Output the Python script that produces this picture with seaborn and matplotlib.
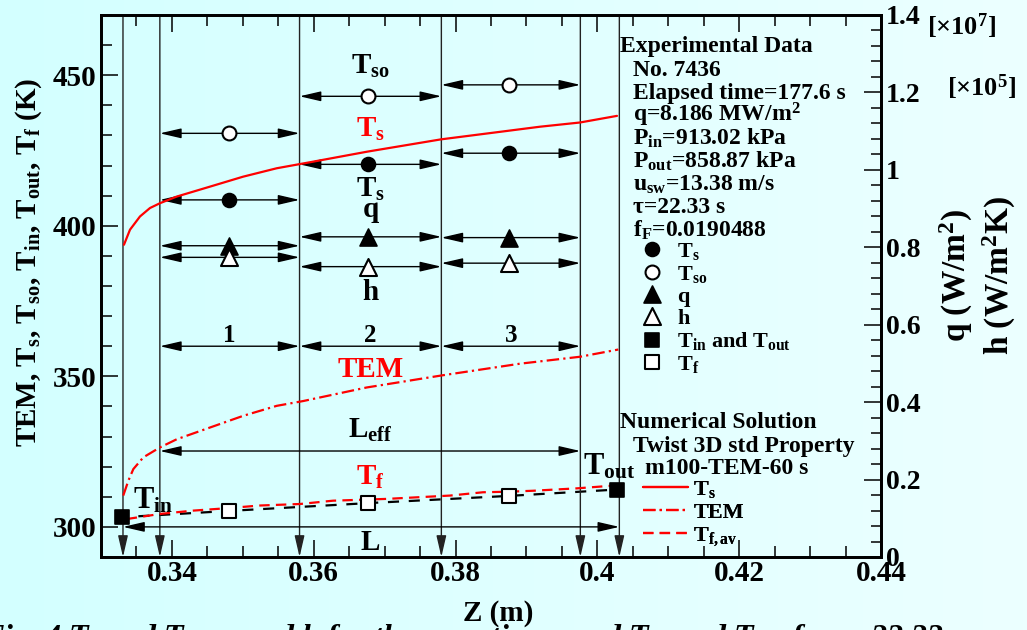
import numpy as np
import matplotlib
matplotlib.use("Agg")
import matplotlib.pyplot as plt
import seaborn as sns
from matplotlib.ticker import MultipleLocator, FuncFormatter
from matplotlib.colors import LinearSegmentedColormap

# ---------------- data ----------------
# numerical solution curves
ts_z = [0.33324, 0.33409, 0.33550, 0.33691, 0.33832, 0.34068, 0.34537, 0.35003,
        0.35478, 0.35806, 0.35947, 0.36751, 0.37795, 0.38627, 0.39191, 0.39755, 0.40277]
ts_T = [393.7, 398.7, 403.1, 405.9, 407.5, 409.7, 413.0, 416.3,
        419.1, 420.5, 421.1, 424.6, 428.7, 431.2, 432.9, 434.3, 436.5]
tem_z = [0.33314, 0.33385, 0.33456, 0.33597, 0.33832, 0.34068, 0.34537, 0.35007,
         0.35478, 0.35853, 0.36747, 0.37805, 0.38909, 0.39755, 0.40295]
tem_T = [310.4, 315.3, 319.2, 323.1, 326.4, 329.1, 333.0, 336.9,
         340.2, 341.8, 346.3, 350.3, 354.2, 356.5, 358.9]
tf_z = [0.33362, 0.33832, 0.34297, 0.34773, 0.35242, 0.35806, 0.36272, 0.37033,
        0.37922, 0.38387, 0.38768, 0.39092, 0.39713, 0.40221]
tf_T = [302.6, 304.3, 305.4, 306.2, 307.1, 307.6, 308.7, 309.3,
        310.4, 311.5, 311.7, 312.0, 312.8, 313.7]

# geometry of the test section
inlet_z = 0.3331
outlet_z = 0.4031
sec_bounds = [0.3383, 0.3580, 0.3780, 0.3976]
section_labels = ["1", "2", "3"]
sec_arrow_T = 360.0
leff_T = 325.2
l_T = 300.0

# experimental data per section
exp_z = [0.3480, 0.3677, 0.3876]
Ts_exp = [408.6, 420.4, 424.1]
Tso_exp = [430.7, 443.0, 446.8]
q_exp = [0.804, 0.827, 0.825]      # x 1e7 W/m2
h_exp = [0.774, 0.750, 0.759]      # x 1e5 W/m2K
Tf_exp = [305.3, 307.9, 310.3]
Tin_z, Tin_T = 0.33292, 303.2
Tout_z, Tout_T = 0.40273, 312.4

exp_header = "Experimental Data"
exp_lines = ["No. 7436", "Elapsed time=177.6 s", r"q=8.186 MW/m$^2$",
             r"P$_{in}$=913.02 kPa", r"P$_{out}$=858.87 kPa", r"u$_{sw}$=13.38 m/s",
             "τ=22.33 s", r"f$_F$=0.0190488"]
num_header = "Numerical Solution"
num_lines = ["Twist 3D std Property", "m100-TEM-60 s"]

# ---------------- style ----------------
W, H = 1027, 630
def fx(px): return px / W
def fy(py): return 1 - py / H

sns.set_theme(style="ticks")
plt.rcParams.update({
    "font.family": ["Liberation Serif", "DejaVu Serif"],
    "font.weight": "bold",
    "axes.labelweight": "bold",
    "mathtext.fontset": "custom",
    "mathtext.rm": "Liberation Serif:bold",
    "mathtext.it": "Liberation Serif:italic:bold",
    "mathtext.bf": "Liberation Serif:bold",
    "mathtext.default": "rm",
    "lines.scale_dashes": False,
    "axes.linewidth": 2.0,
    "axes.edgecolor": "black",
    "text.color": "black",
    "axes.labelcolor": "black",
    "xtick.color": "black",
    "ytick.color": "black",
})

RED = "#ff0000"
fig = plt.figure(figsize=(W / 100, H / 100), dpi=100)

# background gradient
bg = fig.add_axes([0, 0, 1, 1], zorder=-10)
bg.imshow(np.linspace(0, 1, 256).reshape(1, -1), aspect="auto", extent=[0, 1, 0, 1],
          cmap=LinearSegmentedColormap.from_list("bg", ["#d3ffff", "#ecffff"]))
bg.set_axis_off()

ax = fig.add_axes([fx(101), fy(557), fx(881) - fx(101), fy(15) - fy(557)])
ax.set_facecolor("none")
ax2 = ax.twinx()

ax.set_xlim(0.33, 0.44)
ax.set_ylim(290, 470)
ax2.set_ylim(0, 1.4)

# ---------------- curves ----------------
sns.lineplot(x=ts_z, y=ts_T, ax=ax, color=RED, lw=1.6, estimator=None, sort=False, zorder=4)
l_ts = ax.lines[-1]
sns.lineplot(x=tem_z, y=tem_T, ax=ax, color=RED, lw=1.6, estimator=None, sort=False,
             linestyle=(0, (9, 3, 1.6, 3)), zorder=4)
l_tem = ax.lines[-1]
sns.lineplot(x=tf_z, y=tf_T, ax=ax, color=RED, lw=1.6, estimator=None, sort=False,
             linestyle=(0, (7.5, 4.5)), zorder=4)
l_tf = ax.lines[-1]
bz = [Tin_z] + exp_z + [Tout_z]
bT = [Tin_T] + Tf_exp + [Tout_T]
sns.lineplot(x=bz, y=bT, ax=ax, color="black", lw=1.6, estimator=None, sort=False,
             linestyle=(3, (8, 7)), zorder=3)

# ---------------- arrows ----------------
def harrow(axis, x0, x1, y, style="<|-|>"):
    axis.annotate("", xy=(x1, y), xytext=(x0, y), annotation_clip=False,
                  arrowprops=dict(arrowstyle=f"{style},head_length=1.3,head_width=0.3",
                                  mutation_scale=10, color="black", lw=1.0,
                                  shrinkA=0, shrinkB=0))

ylo, yhi = ax.get_ylim()
for z in [inlet_z, sec_bounds[0], sec_bounds[1], sec_bounds[2], sec_bounds[3], outlet_z]:
    ax.annotate("", xy=(z, ylo), xytext=(z, yhi), annotation_clip=False,
                arrowprops=dict(arrowstyle="-|>,head_length=1.3,head_width=0.3",
                                mutation_scale=10, color="#222222", lw=1.0,
                                shrinkA=0, shrinkB=0))

for i in range(3):
    a, b = sec_bounds[i], sec_bounds[i + 1]
    harrow(ax, a, b, Tso_exp[i])
    harrow(ax, a, b, Ts_exp[i])
    harrow(ax2, a, b, q_exp[i])
    harrow(ax2, a, b, h_exp[i])
    harrow(ax, a, b, sec_arrow_T)
harrow(ax, sec_bounds[0], sec_bounds[3], leff_T)
harrow(ax, inlet_z, outlet_z, l_T)

# ---------------- markers ----------------
ms_c, ms_t, ms_s = 100, 150, 110
sns.scatterplot(x=exp_z, y=Ts_exp, ax=ax, marker="o", s=ms_c, color="black",
                edgecolor="black", linewidth=1.2, zorder=6)
m_ts = ax.collections[-1]
sns.scatterplot(x=exp_z, y=Tso_exp, ax=ax, marker="o", s=ms_c, color="white",
                edgecolor="black", linewidth=1.5, zorder=6)
m_tso = ax.collections[-1]
sns.scatterplot(x=exp_z, y=q_exp, ax=ax2, marker="^", s=ms_t, color="black",
                edgecolor="black", linewidth=1.2, zorder=6)
m_q = ax2.collections[-1]
sns.scatterplot(x=exp_z, y=h_exp, ax=ax2, marker="^", s=ms_t, color="white",
                edgecolor="black", linewidth=1.5, zorder=6)
m_h = ax2.collections[-1]
sns.scatterplot(x=[Tin_z, Tout_z], y=[Tin_T, Tout_T], ax=ax, marker="s", s=ms_s,
                color="black", edgecolor="black", linewidth=1.2, zorder=6)
m_tio = ax.collections[-1]
sns.scatterplot(x=exp_z, y=Tf_exp, ax=ax, marker="s", s=ms_s, color="white",
                edgecolor="black", linewidth=1.5, zorder=6)
m_tf = ax.collections[-1]

# ---------------- in-plot labels ----------------
cen = [(sec_bounds[i] + sec_bounds[i + 1]) / 2 for i in range(3)]
kw = dict(ha="center", va="baseline", fontsize=21)
ax.text(cen[1], 450.6, r"T$_{so}$", **kw)
ax.text(cen[1], 429.4, r"T$_s$", color=RED, **kw)
ax.text(cen[1], 409.5, r"T$_s$", **kw)
ax.text(cen[1], 403.0, "q", **kw)
ax.text(cen[1], 375.3, "h", **kw)
for c, lab in zip(cen, section_labels):
    ax.text(c, 361.5, lab, ha="center", va="baseline", fontsize=18)
ax.text(cen[1], 349.8, "TEM", color=RED, **kw)
ax.text(cen[1], 329.5, r"L$_{eff}$", **kw)
ax.text(cen[1], 313.9, r"T$_f$", color=RED, **kw)
ax.text(cen[1], 292.3, "L", **kw)
ax.text(0.33451, 306.2, r"T$_{in}$", ha="left", va="baseline", fontsize=22)
ax.text(0.39797, 317.4, r"T$_{out}$", ha="left", va="baseline", fontsize=22)

# ---------------- axes formatting ----------------
fmt = FuncFormatter(lambda v, p: f"{v:g}")
ax.xaxis.set_major_locator(MultipleLocator(0.02))
ax.xaxis.set_minor_locator(MultipleLocator(0.005))
ax.xaxis.set_major_formatter(fmt)
ax.yaxis.set_major_locator(MultipleLocator(50))
ax.yaxis.set_minor_locator(MultipleLocator(10))
ax2.yaxis.set_major_locator(MultipleLocator(0.2))
ax2.yaxis.set_minor_locator(MultipleLocator(0.04))
ax2.yaxis.set_major_formatter(fmt)

ax.tick_params(axis="x", which="both", direction="in", top=True, bottom=True,
               labelsize=21, pad=2, width=1.1)
ax.tick_params(axis="y", which="both", direction="in", left=True, right=False,
               labelsize=21, pad=3, width=1.1)
ax.tick_params(which="major", length=12.5)
ax.tick_params(which="minor", length=7.7)
ax2.tick_params(axis="y", which="both", direction="in", right=True, left=False,
                labelsize=20, pad=3.5, width=1.1)
ax2.tick_params(which="major", length=12.5)
ax2.tick_params(which="minor", length=7.5)
for s in ax2.spines.values():
    s.set_linewidth(2.0)

ax.set_xlabel("Z (m)", fontsize=21)
ax.xaxis.set_label_coords((498 - 101) / 780, (557 - 621) / 542)
ax.xaxis.label.set_va("baseline")
ax.set_ylabel(r"TEM, T$_s$, T$_{so}$, T$_{in}$, T$_{out}$, T$_f$ (K)", fontsize=21)
ax.yaxis.set_label_coords((44 - 101) / 780, (557 - 262) / 542)
ax2.set_ylabel("q (W/m$^2$)\nh (W/m$^2$K)", fontsize=24, linespacing=1.2)
ax2.yaxis.set_label_coords((938 - 101) / 780, (557 - 276) / 542)

fig.text(fx(927), fy(26), r"[×10$^7$]", fontsize=19, ha="left", va="center")
fig.text(fx(947), fy(87), r"[×10$^5$]", fontsize=19, ha="left", va="center")

# ---------------- info text and legends ----------------
fig.text(fx(620), fy(52), exp_header, fontsize=17, va="baseline", ha="left")
for i, s in enumerate(exp_lines):
    fig.text(fx(633), fy(76 + 22.9 * i), s, fontsize=17, va="baseline", ha="left")

prop = dict(family="Liberation Serif", weight="bold", size=16)
leg1 = ax.legend(handles=[m_ts, m_tso, m_q, m_h, m_tio, m_tf],
                 labels=[r"T$_s$", r"T$_{so}$", "q", "h", r"T$_{in}$ and T$_{out}$", r"T$_f$"],
                 loc="upper left", bbox_to_anchor=(fx(639), fy(241)),
                 bbox_transform=fig.transFigure, frameon=False, prop=prop,
                 handlelength=1.2, handletextpad=0.53, labelspacing=0.07,
                 borderpad=0, borderaxespad=0, scatterpoints=1, scatteryoffsets=[0.5])
ax.add_artist(leg1)

fig.text(fx(620), fy(428), num_header, fontsize=17, va="baseline", ha="left")
fig.text(fx(633), fy(452), num_lines[0], fontsize=17, va="baseline", ha="left")
fig.text(fx(645), fy(474), num_lines[1], fontsize=17, va="baseline", ha="left")
leg2 = ax.legend(handles=[l_ts, l_tem, l_tf], labels=[r"T$_s$", "TEM", r"T$_{f,av}$"],
                 loc="upper left", bbox_to_anchor=(fx(643), fy(479)),
                 bbox_transform=fig.transFigure, frameon=False, prop=prop,
                 handlelength=2.03, handletextpad=0.23, labelspacing=0.1,
                 borderpad=0, borderaxespad=0)
ax.add_artist(leg2)

# caption (cut off at the bottom edge as in the reference)
fig.text(fx(-18), fy(622),
         r"Fig. 4 $\mathit{T}_\mathit{s}$ and $\mathit{T}_\mathit{so}$, $\mathit{q}$ and $\mathit{h}$ "
         r"for three sections, and $\mathit{T}_\mathit{in}$ and $\mathit{T}_\mathit{out}$ for τ=22.33 s",
         fontsize=23, style="italic", va="top", ha="left")

fig.savefig("out.png", dpi=100)
